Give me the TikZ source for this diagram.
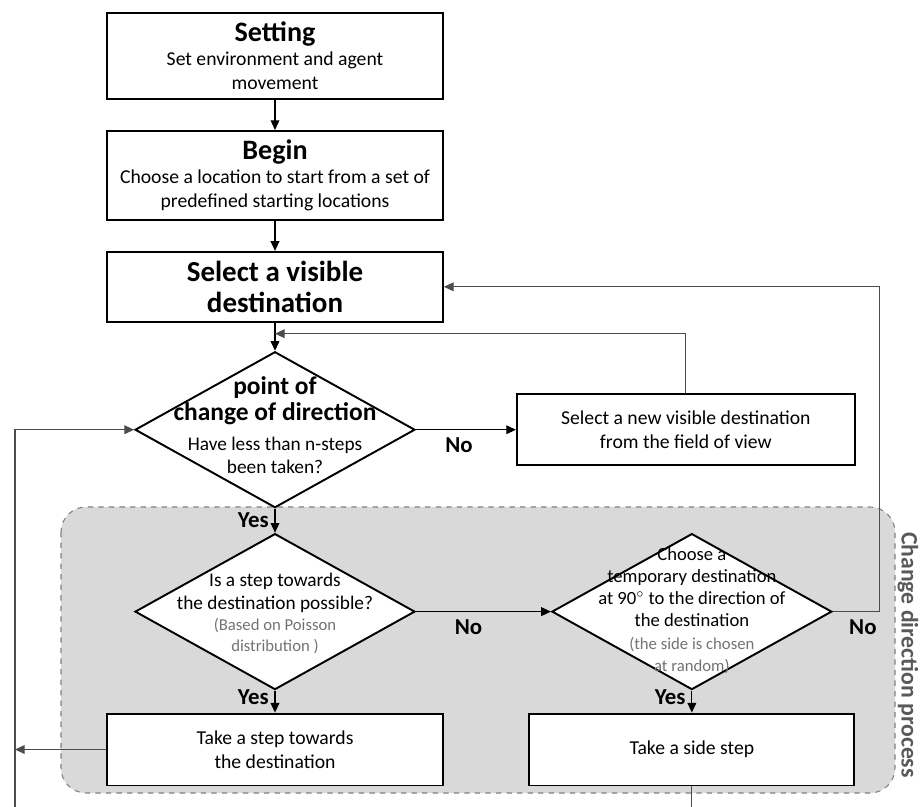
\documentclass[tikz,border=0pt]{standalone}
\usepackage{fontspec}
\setmainfont{Carlito}
\usetikzlibrary{arrows.meta, positioning, shapes.geometric, calc}

\begin{document}
\begin{tikzpicture}
	[->,>={Triangle[length=5.5pt,width=5pt]}, x=0.02cm, y=-0.02cm, line width=0.6pt,
	box/.style={rectangle,draw,line width=1.1pt,fill=white,align=center,inner sep=2pt,font=\fontsize{11.2}{13.6}\selectfont},
	dia/.style={diamond,draw,line width=1.1pt,fill=white,inner sep=0pt,minimum width=5.6cm,minimum height=3.12cm},
	diatext/.style={align=center,font=\fontsize{11}{13}\selectfont},
	answer/.style={font=\bfseries\fontsize{13}{15}\selectfont},
	loop/.style={draw=black!70}]
	\useasboundingbox (0,0) rectangle (920,807);
	% grey area
	\draw[-, dashed, draw=black!50, fill=black!15, rounded corners=0.5cm] (61,507) rectangle (895,793);
	\node (proc) [rotate=-90, text=black!65, font=\bfseries\fontsize{13.5}{15}\selectfont] at (908,655) {Change direction process};
	%\begin{scope}
	\node (setting) [box, minimum width=6.72cm, minimum height=1.72cm] at (275,56) {{\bfseries\fontsize{16}{18}\selectfont Setting}\\Set environment and agent\\movement};
	\node (begin) [box, minimum width=6.72cm, minimum height=1.78cm, below = 0.6cm of setting] {{\bfseries\fontsize{16}{18}\selectfont Begin}\\Choose a location to start from a set of\\predefined starting locations};
	\node (select) [box, minimum width=6.72cm, minimum height=1.4cm, below = 0.6cm of begin, font=\bfseries\fontsize{16.5}{18}\selectfont] {Select a visible\\destination};
	\node (d1) [dia, below = 0.56cm of select] {};
	\node (newdest) [box, minimum width=6.76cm, minimum height=1.42cm, right = 2cm of d1] {Select a new visible destination\\from the field of view};
	\node (d2) [dia, below = 0.48cm of d1] {};
	\node (d3) [dia, right = 2.7cm of d2] {};
	\node (step) [box, minimum width=6.72cm, minimum height=1.44cm, below = 0.44cm of d2] {Take a step towards\\the destination};
	\node (side) [box, minimum width=6.5cm, minimum height=1.44cm, below = 0.44cm of d3] {Take a side step};
	% diamond texts
	\node (t1) [diatext] at ($(d1)+(0,-5)$) {\bfseries\fontsize{14.5}{15}\selectfont point of\\[2pt]\bfseries\fontsize{14.5}{15}\selectfont change of direction\\[4pt]Have less than n-steps\\been taken?};
	\node (t2) [diatext] at ($(d2)+(0,2)$) {Is a step towards\\the destination possible?\\[-1pt]{\color{black!55}\fontsize{9.5}{11}\selectfont(Based on Poisson}\\[-1pt]{\color{black!55}\fontsize{9.5}{11}\selectfont distribution )}};
	\node (t3) [diatext, font=\fontsize{10.6}{12.6}\selectfont] at ($(d3)+(0,-1)$) {Choose a\\temporary destination\\at 90$^{\circ}$ to the direction of\\the destination\\{\color{black!55}\fontsize{9.5}{10}\selectfont(the side is chosen}\\{\color{black!55}\fontsize{9.5}{10}\selectfont at random)}};
	\path
	(setting) edge (begin)
	(begin) edge (select)
	(select) edge (d1)
	(d1) edge node [answer, left, pos=0.5] {Yes} (d2)
	(d1) edge node [answer, below = 1pt, pos=0.43] {No} (newdest)
	(d2) edge node [answer, left, pos=0.3] {Yes} (step)
	(d2) edge node [answer, below = 1pt, pos=0.39] {No} (d3)
	(d3) edge node [answer, left, pos=0.3] {Yes} (side);
	% loops back
	\coordinate (m1) at ($(select.south)!0.39!(d1.north)$);
	\coordinate (rt) at ($(d3.east)+(47,0)$);
	\coordinate (lb) at (15,807);
	\coordinate (sb) at (side.south |- lb);
	\draw[loop] (newdest.north) |- (m1);
	\draw[loop] (d3.east) -- node [answer, below = 1pt, pos=0.64, text=black] {No} (rt) |- (select.east);
	\draw[loop] (step.west) -- (step.west -| lb);
	\draw[loop] (lb) |- (d1.west);
	\draw[loop, -] (side.south) -- (sb);
\end{tikzpicture}
\end{document}
